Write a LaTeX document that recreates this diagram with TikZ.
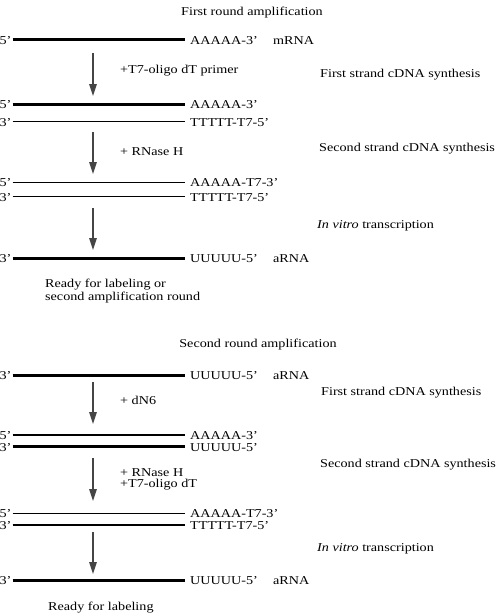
\documentclass[tikz,border=0pt]{standalone}
\usepackage{fontspec}
\setmainfont[FakeStretch=1.18]{Liberation Serif}
\usetikzlibrary{arrows.meta}
\definecolor{arrowgray}{HTML}{454545}
\newcommand\mystrand[6]{%
  % #1 name, #2 y, #3 style, #4 left label, #5 right label, #6 extra label
  \coordinate (#1-a) at (12.5,#2);
  \coordinate (#1-b) at (185,#2);
  \draw[#3] (#1-a) -- (#1-b);
  \node[leftlab] (#1-l) at (11.5,#2+4.5) {#4};
  \node[endlab] (#1-r) at (190,#2+4.5) {#5};
  \if\relax\detokenize{#6}\relax\else
    \node[endlab] (#1-x) at (273,#2+4.5) {#6};
  \fi
}
\begin{document}
\begin{tikzpicture}[x=1pt,y=-1pt,
  font=\fontsize{12}{13}\selectfont,
  thickstrand/.style={line width=3pt},
  thinstrand/.style={line width=1.2pt},
  steparrow/.style={arrowgray, line width=1.6pt, -{Triangle[length=12pt,width=7.5pt]}},
  endlab/.style={anchor=base west, inner sep=0pt},
  leftlab/.style={anchor=base east, inner sep=0pt},
  txt/.style={anchor=base west, inner sep=0pt},
  title/.style={anchor=base, inner sep=0pt}]
\useasboundingbox (0,0) rectangle (496,614);

% ---------- First round ----------
\node[title] (t1) at (252,15) {First round amplification};

\mystrand{m1}{39.5}{thickstrand}{5’}{AAAAA-3’}{mRNA}
\coordinate (a1s) at (93,53);
\coordinate (a1e) at (93,96);
\draw[steparrow] (a1s) -- (a1e);
\node[txt] (r1) at (120,73) {+T7-oligo dT primer};
\node[txt] (s1) at (320,77) {First strand cDNA synthesis};

\mystrand{p1a}{104}{thickstrand}{5’}{AAAAA-3’}{}
\mystrand{p1b}{121.7}{thinstrand}{3’}{TTTTT-T7-5’}{}
\coordinate (a2s) at (93,132);
\coordinate (a2e) at (93,174);
\draw[steparrow] (a2s) -- (a2e);
\node[txt] (r2) at (120,155.5) {+ RNase H};
\node[txt] (s2) at (319,151) {Second strand cDNA synthesis};

\mystrand{p2a}{182.3}{thinstrand}{5’}{AAAAA-T7-3’}{}
\mystrand{p2b}{196.7}{thinstrand}{3’}{TTTTT-T7-5’}{}
\coordinate (a3s) at (93,208);
\coordinate (a3e) at (93,250);
\draw[steparrow] (a3s) -- (a3e);
\node[txt] (s3) at (317,228.5) {\textit{In vitro} transcription};

\mystrand{ar1}{258.3}{thickstrand}{3’}{UUUUU-5’}{aRNA}
\node[anchor=north west, inner sep=0pt, align=left] (rd1) at (45,279)
  {Ready for labeling or\\second amplification round};

% ---------- Second round ----------
\node[title] (t2) at (258,347) {Second round amplification};

\mystrand{ar2}{375}{thickstrand}{3’}{UUUUU-5’}{aRNA}
\coordinate (a4s) at (93,382);
\coordinate (a4e) at (93,424);
\draw[steparrow] (a4s) -- (a4e);
\node[txt] (r4) at (120,404) {+ dN6};
\node[txt] (s4) at (321,395) {First strand cDNA synthesis};

\mystrand{p3a}{435}{thinstrand}{5’}{AAAAA-3’}{}
\mystrand{p3b}{446.7}{thickstrand}{3’}{UUUUU-5’}{}
\coordinate (a5s) at (93,458);
\coordinate (a5e) at (93,501);
\draw[steparrow] (a5s) -- (a5e);
\node[anchor=north west, inner sep=0pt, align=left, font=\fontsize{12}{11}\selectfont] (r5) at (120,468.2)
  {+ RNase H\\+T7-oligo dT};
\node[txt] (s5) at (320,467) {Second strand cDNA synthesis};

\mystrand{p4a}{513.3}{thinstrand}{5’}{AAAAA-T7-3’}{}
\mystrand{p4b}{525}{thinstrand}{3’}{TTTTT-T7-5’}{}
\coordinate (a6s) at (93,532);
\coordinate (a6e) at (93,574);
\draw[steparrow] (a6s) -- (a6e);
\node[txt] (s6) at (317,551) {\textit{In vitro} transcription};

\mystrand{ar3}{580}{thickstrand}{3’}{UUUUU-5’}{aRNA}
\node[txt] (rd2) at (48,610) {Ready for labeling};
\end{tikzpicture}
\end{document}
